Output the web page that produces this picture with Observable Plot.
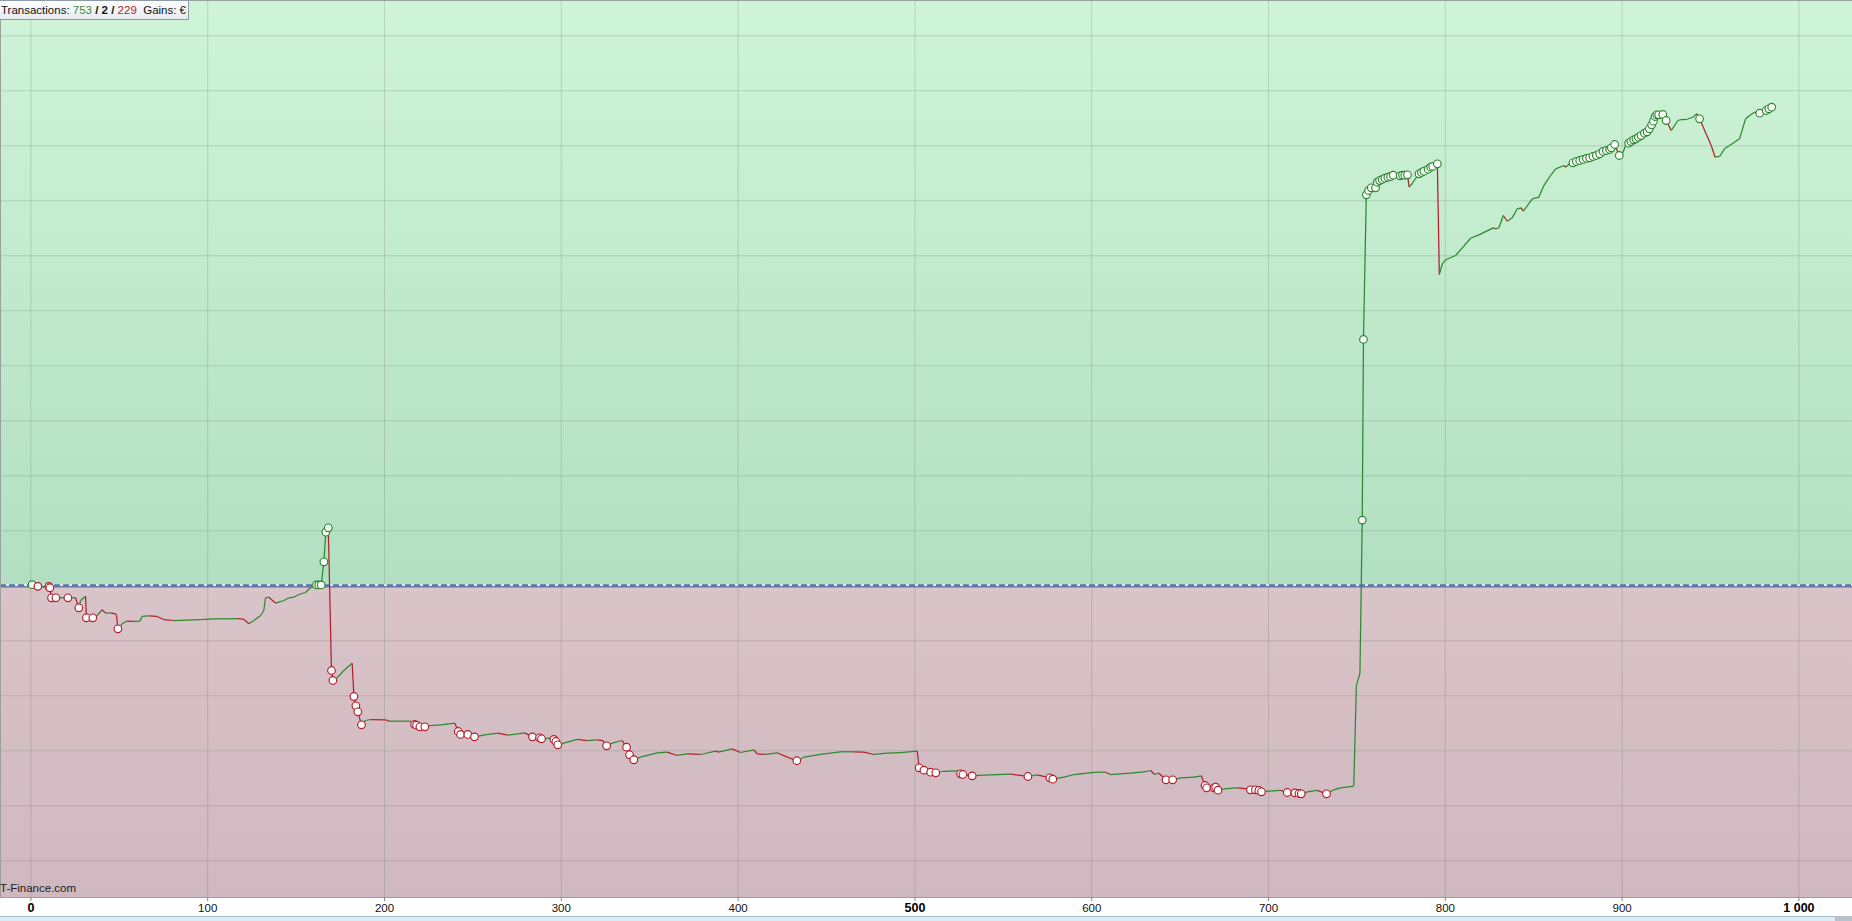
<!DOCTYPE html>
<html><head><meta charset="utf-8">
<script src="https://cdn.jsdelivr.net/npm/d3@7"></script>
<script src="https://cdn.jsdelivr.net/npm/@observablehq/plot@0.6"></script>
<style>
body{margin:0;background:#fff;overflow:hidden;font-family:"Liberation Sans",Arial,sans-serif}
#wrap{position:relative;width:1852px;height:921px}
#legend{position:absolute;left:-1px;top:0;height:18px;line-height:18px;padding:0 2px 0 1px;border:1px solid #8e9ba6;background:linear-gradient(#ffffff,#e6eaef);font-size:11.5px;color:#111;white-space:pre}
#brand{position:absolute;left:0;top:882px;font-size:11.5px;color:#222}
#strip{position:absolute;left:0;top:916px;width:1852px;height:4px;background:#dcecf5;border-top:1px solid #a8bccb}
#thumb{position:absolute;right:0;top:916px;width:17px;height:5px;background:#b9c2ca}
</style></head>
<body><div id="wrap"><div id="chart"></div>
<div id="legend"></div><div id="brand"></div><div id="strip"></div><div id="thumb"></div></div>
<script>
// ---- data ----
const tradeIndex = [0.7,3.9,10.1,10.7,11.65,14.1,20.9,25.2,27.1,28.1,30.9,31.4,35.0,37.5,40.3,42.2,45.0,47.9,48.4,49.2,51.6,54.1,58.2,61.6,62.9,66.7,71.4,75.2,80.8,88.4,95.9,103.5,111.0,116.7,120.4,123.3,126.1,129.9,131.7,132.7,134.6,138.4,143.1,145.9,148.7,151.5,155.3,158.1,161.5,162.8,164.2,165.7,166.8,168.2,170.0,170.8,173.2,177.0,181.7,182.7,183.8,184.9,187.0,189.2,192.1,200.6,202.4,214.7,217.0,218.1,220.0,222.8,226.0,231.7,239.8,241.7,243.0,247.1,250.9,258.4,264.1,269.7,275.4,279.2,283.7,287.7,288.8,293.9,295.8,296.9,298.0,301.4,309.0,314.6,320.3,323.5,325.6,328.8,334.4,336.9,338.6,341.0,344.8,354.2,359.8,365.5,371.1,378.7,387.2,389.0,396.6,401.4,408.9,410.8,415.5,422.1,427.8,433.2,437.2,446.6,457.9,465.5,471.1,476.8,484.3,491.9,501.3,502.4,505.1,508.9,511.8,515.4,523.9,525.8,527.1,532.4,538.9,554.1,563.9,569.2,576.3,578.0,584.4,590.0,597.5,603.1,607.8,610.6,621.9,629.5,633.3,635.5,638.0,642.0,645.8,650.3,657.9,662.0,664.1,665.0,669.1,670.1,671.4,674.7,682.3,687.9,689.8,692.6,694.5,696.0,700.2,706.8,710.6,714.9,717.2,718.5,721.9,727.5,732.8,736.9,740.7,748.2,749.7,751.7,753.0,753.7,755.3,756.6,758.1,760.5,761.5,762.8,764.3,765.8,767.5,769.0,770.5,774.4,775.8,777.1,778.6,779.5,781.4,783.9,785.1,786.5,787.9,790.2,791.7,792.8,795.5,796.6,798.3,800.2,805.8,809.6,814.3,819.0,827.1,828.4,830.3,832.8,835.0,837.8,840.7,842.9,844.1,849.2,852.9,855.7,859.5,862.4,867.1,868.0,870.3,872.2,874.1,876.0,877.9,879.8,881.6,883.5,885.4,887.3,889.2,891.1,892.9,893.9,895.8,898.4,900.3,902.2,903.7,905.0,906.5,907.8,909.2,910.7,912.6,914.1,915.4,916.7,917.7,918.6,919.6,920.7,923.0,924.9,927.8,931.5,933.4,936.3,940.0,942.3,943.8,947.5,950.4,952.6,955.1,957.9,960.8,966.4,969.8,972.1,974.9,977.8,980.0,981.5,983.0,984.6];
const equity = [20,-10,-10,-36,-218,-218,-218,-218,-400,-267,-189,-582,-582,-540,-436,-498,-491,-509,-540,-782,-691,-644,-649,-644,-558,-546,-558,-613,-631,-625,-613,-601,-601,-595,-607,-691,-631,-540,-449,-218,-207,-316,-267,-218,-207,-158,-122,-36,15,15,15,436,974,1054,-1540,-1722,-1673,-1540,-1407,-2013,-2182,-2291,-2527,-2449,-2431,-2436,-2461,-2461,-2522,-2534,-2564,-2564,-2540,-2527,-2498,-2649,-2703,-2703,-2746,-2703,-2679,-2716,-2691,-2673,-2746,-2764,-2782,-2770,-2794,-2831,-2891,-2861,-2794,-2813,-2800,-2813,-2909,-2861,-2813,-2934,-3072,-3163,-3116,-3036,-3025,-3085,-3054,-3067,-3006,-3025,-2964,-3031,-2982,-3054,-3067,-3036,-3116,-3181,-3116,-3067,-3018,-3018,-3025,-3067,-3043,-3031,-3006,-3309,-3352,-3389,-3400,-3376,-3364,-3418,-3431,-3455,-3443,-3425,-3467,-3437,-3491,-3516,-3480,-3431,-3407,-3389,-3389,-3431,-3407,-3382,-3358,-3431,-3407,-3527,-3527,-3491,-3480,-3455,-3631,-3673,-3673,-3661,-3716,-3691,-3673,-3691,-3709,-3709,-3721,-3745,-3733,-3721,-3758,-3764,-3776,-3782,-3745,-3721,-3782,-3709,-3673,-3643,-1811,-1594,1194,4480,7108,7187,7236,7236,7337,7368,7387,7410,7428,7441,7465,7454,7465,7465,7472,7247,7319,7441,7490,7514,7537,7574,7610,7623,7672,5659,5854,5927,6005,6145,6319,6381,6508,6490,6508,6732,6628,6690,6854,6872,6810,7036,7065,7277,7459,7581,7641,7610,7672,7690,7714,7732,7751,7769,7781,7805,7823,7854,7896,7914,7932,7963,8023,7823,7865,8023,8047,8077,8108,8126,8156,8186,8228,8254,8308,8381,8447,8532,8563,8563,8568,8459,8277,8459,8477,8477,8519,8581,8490,8217,8005,7792,7805,7945,8005,8126,8490,8550,8610,8592,8610,8641,8672,8701];
const isTrade = [1,1,1,1,1,1,1,0,1,0,0,1,1,0,0,0,0,0,0,1,0,0,0,0,0,0,0,0,0,0,0,0,0,0,0,0,0,0,0,0,0,0,0,0,0,0,0,0,1,1,1,1,1,1,1,1,0,0,0,1,1,1,1,0,0,0,0,0,1,1,1,1,0,0,0,1,1,1,1,0,0,0,0,0,1,1,1,0,1,1,1,0,0,0,0,0,1,0,0,1,1,1,0,0,0,0,0,0,0,0,0,0,0,0,0,0,0,1,0,0,0,0,0,0,0,0,0,1,1,1,1,0,0,1,1,1,0,0,1,0,1,1,0,0,0,0,0,0,0,0,0,0,0,1,1,0,0,0,1,1,1,1,1,0,0,0,1,1,1,1,0,0,1,1,1,1,0,0,1,0,0,0,0,0,1,1,1,1,1,1,1,1,1,1,1,1,1,1,1,1,1,0,0,0,1,1,1,1,1,1,1,0,0,0,0,0,0,0,0,0,0,0,0,0,0,0,0,0,0,0,0,0,0,0,0,1,1,1,1,1,1,1,1,1,1,1,1,1,1,1,0,0,1,1,1,1,1,1,1,1,1,1,1,1,1,1,1,1,0,0,0,0,0,0,1,0,0,0,0,0,0,0,0,0,0,1,0,1,1,1,1];
const tickValues = [0,100,200,300,400,500,600,700,800,900,1000];
const tickLabels = ["0","100","200","300","400","500","600","700","800","900","1 000"];
const boldTicks = [0,500,1000];
const gridY = [-5000,-4000,-3000,-2000,-1000,1000,2000,3000,4000,5000,6000,7000,8000,9000,10000];
const counts = {wins: "753", even: "2", losses: "229"};
const brandText = "T-Finance.com";

// ---- colors ----
const GREEN = "#2b8a2f", RED = "#b3202c";

const pts = tradeIndex.map((x, i) => ({x, y: equity[i], t: isTrade[i]}));
const segs = pts.slice(1).map((p, i) => ({x1: pts[i].x, y1: pts[i].y, x2: p.x, y2: p.y, up: p.y >= pts[i].y}));
const trades = pts.filter(p => p.t);

function background(index, {x, y}, values, dim) {
  const ns = "http://www.w3.org/2000/svg";
  const g = document.createElementNS(ns, "g");
  g.innerHTML = `<defs>
    <linearGradient id="gUp" x1="0" y1="0" x2="0" y2="1"><stop offset="0" stop-color="#cff4d7"/><stop offset="1" stop-color="#b2dfc2"/></linearGradient>
    <linearGradient id="gDn" x1="0" y1="0" x2="0" y2="1"><stop offset="0" stop-color="#d9c4c9"/><stop offset="1" stop-color="#cfb8c0"/></linearGradient></defs>`;
  const y0 = y(0);
  const r1 = document.createElementNS(ns, "rect");
  r1.setAttribute("x", dim.marginLeft); r1.setAttribute("width", dim.width - dim.marginLeft - dim.marginRight);
  r1.setAttribute("y", dim.marginTop); r1.setAttribute("height", y0 - dim.marginTop); r1.setAttribute("fill", "url(#gUp)");
  const r2 = document.createElementNS(ns, "rect");
  r2.setAttribute("x", dim.marginLeft); r2.setAttribute("width", dim.width - dim.marginLeft - dim.marginRight);
  r2.setAttribute("y", y0); r2.setAttribute("height", dim.height - dim.marginBottom - y0); r2.setAttribute("fill", "url(#gDn)");
  g.append(r1, r2);
  return g;
}

const chart = Plot.plot({
  width: 1852, height: 917,
  marginLeft: 0, marginRight: 0, marginTop: 0, marginBottom: 20,
  style: {background: "white", fontFamily: "'Liberation Sans', Arial, sans-serif", overflow: "visible"},
  x: {domain: [-17.2, 1030.3], axis: null},
  y: {domain: [-5667, 10641], axis: null},
  marks: [
    background,
    Plot.ruleY(gridY, {stroke: "#5a6a60", strokeOpacity: 0.22, strokeWidth: 1}),
    Plot.ruleX(tickValues, {stroke: "#5a6a60", strokeOpacity: 0.22, strokeWidth: 1}),
    Plot.ruleY([0], {stroke: "#1c2c68", strokeWidth: 1, dy: 1}),
    Plot.ruleY([0], {stroke: "#e4eef8", strokeWidth: 2, dy: -0.5}),
    Plot.ruleY([0], {stroke: "#4a76b4", strokeWidth: 2, strokeDasharray: "6,3", dy: -0.5}),
    Plot.link(segs, {x1: "x1", y1: "y1", x2: "x2", y2: "y2", stroke: d => d.up ? GREEN : RED, strokeWidth: 1.25}),
    Plot.dot(trades, {x: "x", y: "y", r: 3.8, fill: "white", stroke: d => d.y < 0 ? RED : GREEN, strokeWidth: 1.2}),
    Plot.frame({stroke: "#9aa09c", strokeWidth: 1}),
    Plot.axisX(tickValues.filter(v => !boldTicks.includes(v)), {tickSize: 4, tickPadding: 2, fontSize: 11.5, stroke: "#888", fill: "#111", tickFormat: d => tickLabels[tickValues.indexOf(d)]}),
    Plot.axisX(boldTicks, {tickSize: 4, tickPadding: 2, fontSize: 12.5, fontWeight: "bold", stroke: "#888", fill: "#000", tickFormat: d => tickLabels[tickValues.indexOf(d)]})
  ]
});
document.getElementById("chart").append(chart);
document.getElementById("legend").innerHTML =
  `Transactions: <span style="color:#3f8f3f">${counts.wins}</span> <b>/</b> <b>${counts.even}</b> <b>/</b> <span style="color:#c0202e">${counts.losses}</span>  Gains: €`;
document.getElementById("brand").textContent = brandText;
</script></body></html>
